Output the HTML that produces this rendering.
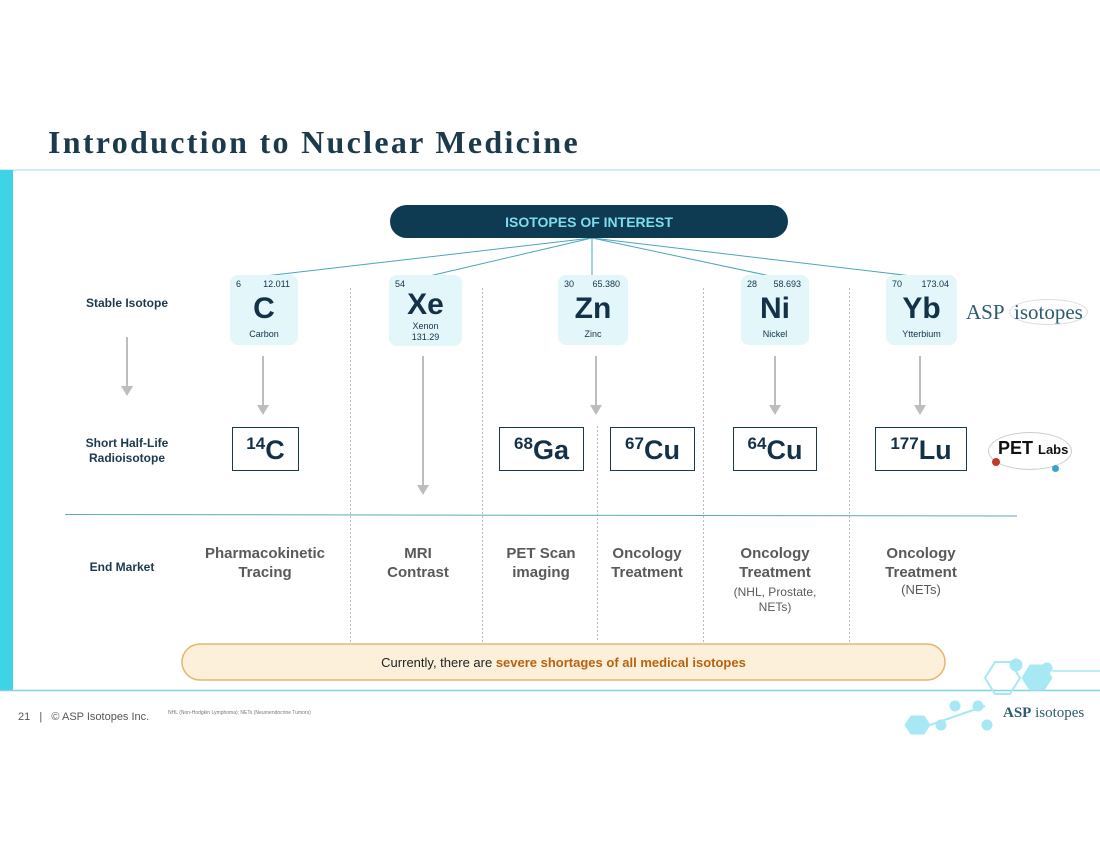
<!DOCTYPE html>
<html><head><meta charset="utf-8"><style>
body{margin:0;width:1100px;height:850px;background:#fff;position:relative;overflow:hidden;font-family:"Liberation Sans",sans-serif}
.a{position:absolute}
.lab{position:absolute;color:#1b3a4b;font-weight:bold;font-size:12px;text-align:center;width:140px;line-height:15px}
.el{position:absolute;background:#e3f6fa;border-radius:8px;color:#133247;text-align:center}
.el .n{position:absolute;top:4px;left:6px;font-size:9px}
.el .w{position:absolute;top:4px;right:8px;font-size:9px}
.el .s{position:absolute;top:18px;left:0;right:0;font-size:30px;font-weight:bold;line-height:32px}
.el .nm{position:absolute;top:54px;left:0;right:0;font-size:9px}
.rb{position:absolute;border:1px solid #1b3a4b;color:#133247;font-size:27px;font-weight:bold;text-align:center;line-height:44px;height:44px;box-sizing:border-box}
.rb sup{font-size:17px;vertical-align:10px;line-height:0}
.em{position:absolute;width:150px;text-align:center;color:#595959;font-weight:bold;font-size:15px;line-height:19px}
</style></head><body>
<div class="a" style="left:48px;top:124px;font-family:'Liberation Serif',serif;font-weight:bold;font-size:32px;letter-spacing:2.3px;color:#1b3a4b">Introduction to Nuclear Medicine</div>
<svg class="a" style="left:0;top:0" width="1100" height="850">
<line x1="0" y1="170" x2="1100" y2="170" stroke="#9fdbe8" stroke-width="1"/>
<rect x="0" y="170" width="13" height="520" fill="#3fd3e6"/>
<line x1="0" y1="690.5" x2="1100" y2="690.5" stroke="#7fd3e3" stroke-width="1.5"/>
<g stroke="#4aa5bf" stroke-width="1">
<line x1="592" y1="238" x2="265" y2="276"/><line x1="592" y1="238" x2="425" y2="277"/>
<line x1="592" y1="238" x2="592" y2="277"/><line x1="592" y1="238" x2="775" y2="277"/>
<line x1="592" y1="238" x2="920" y2="277"/>
</g>
<g stroke="#bbb" stroke-width="1" stroke-dasharray="2,2">
<line x1="350.5" y1="288" x2="350.5" y2="642"/><line x1="482.5" y1="288" x2="482.5" y2="642"/>
<line x1="597.5" y1="426" x2="597.5" y2="642"/><line x1="703.5" y1="288" x2="703.5" y2="642"/>
<line x1="849.5" y1="288" x2="849.5" y2="642"/>
</g>
<g stroke="#bdbdbd" stroke-width="2" fill="#bdbdbd">
<line x1="127" y1="337" x2="127" y2="388"/><polygon points="121,386 133,386 127,396" stroke="none"/>
<line x1="263" y1="356" x2="263" y2="407"/><polygon points="257,405 269,405 263,415" stroke="none"/>
<line x1="423" y1="356" x2="423" y2="487"/><polygon points="417,485 429,485 423,495" stroke="none"/>
<line x1="596" y1="356" x2="596" y2="407"/><polygon points="590,405 602,405 596,415" stroke="none"/>
<line x1="775" y1="356" x2="775" y2="407"/><polygon points="769,405 781,405 775,415" stroke="none"/>
<line x1="920" y1="356" x2="920" y2="407"/><polygon points="914,405 926,405 920,415" stroke="none"/>
</g>
<line x1="65" y1="514.5" x2="1017" y2="516" stroke="#5aa9c0" stroke-width="1"/>
<rect x="390" y="205" width="398" height="33" rx="16.5" fill="#0e3a52"/>
<rect x="182" y="644" width="763" height="36" rx="18" fill="#fdf0db" stroke="#e3b56c" stroke-width="1.5"/>
<g fill="#a6e8f3" stroke="#a6e8f3">
<polygon points="985,678 995,662 1010,662 1020,678 1010,694 995,694" fill="none" stroke-width="2"/>
<polygon points="1022,678 1030,665 1044,665 1052,678 1044,690 1030,690"/>
<line x1="1052" y1="671" x2="1100" y2="671" stroke-width="1.5"/>
<circle cx="1016" cy="665" r="6"/><circle cx="1047" cy="668" r="5"/>
<polygon points="905,725 911,716 924,716 930,725 924,734 911,734"/>
<line x1="930" y1="725" x2="985" y2="706" stroke-width="2"/>
<circle cx="941" cy="725" r="5"/><circle cx="955" cy="706" r="5"/><circle cx="978" cy="706" r="5"/><circle cx="987" cy="725" r="5"/>
</g>
</svg>
<div class="a" style="left:390px;top:214px;width:398px;text-align:center;color:#7fdcef;font-weight:bold;font-size:14px">ISOTOPES OF INTEREST</div>
<div class="lab" style="left:57px;top:296px">Stable Isotope</div>
<div class="lab" style="left:57px;top:436px">Short Half-Life<br>Radioisotope</div>
<div class="lab" style="left:52px;top:560px">End Market</div>
<div class="el" style="left:230px;top:275px;width:68px;height:70px"><span class="n">6</span><span class="w">12.011</span><div class="s">C</div><div class="nm">Carbon</div></div>
<div class="el" style="left:389px;top:275px;width:73px;height:71px"><span class="n">54</span><div class="s" style="top:14px">Xe</div><div class="nm" style="top:46px;line-height:11px">Xenon<br>131.29</div></div>
<div class="el" style="left:558px;top:275px;width:70px;height:70px"><span class="n">30</span><span class="w">65.380</span><div class="s">Zn</div><div class="nm">Zinc</div></div>
<div class="el" style="left:741px;top:275px;width:68px;height:70px"><span class="n">28</span><span class="w">58.693</span><div class="s">Ni</div><div class="nm">Nickel</div></div>
<div class="el" style="left:886px;top:275px;width:71px;height:70px"><span class="n">70</span><span class="w">173.04</span><div class="s">Yb</div><div class="nm">Ytterbium</div></div>
<div class="rb" style="left:232px;top:427px;width:67px"><sup>14</sup>C</div>
<div class="rb" style="left:499px;top:427px;width:85px"><sup>68</sup>Ga</div>
<div class="rb" style="left:610px;top:427px;width:85px"><sup>67</sup>Cu</div>
<div class="rb" style="left:733px;top:427px;width:84px"><sup>64</sup>Cu</div>
<div class="rb" style="left:875px;top:427px;width:92px"><sup>177</sup>Lu</div>
<div class="em" style="left:190px;top:544px">Pharmacokinetic<br>Tracing</div>
<div class="em" style="left:343px;top:544px">MRI<br>Contrast</div>
<div class="em" style="left:466px;top:544px">PET Scan<br>imaging</div>
<div class="em" style="left:572px;top:544px">Oncology<br>Treatment</div>
<div class="em" style="left:700px;top:544px">Oncology<br>Treatment<div style="font-weight:normal;font-size:12px;line-height:15px;margin-top:3px">(NHL, Prostate,<br>NETs)</div></div>
<div class="em" style="left:846px;top:544px">Oncology<br>Treatment<div style="font-weight:normal;font-size:13px;line-height:15px">(NETs)</div></div>
<div class="a" style="left:182px;top:655px;width:763px;text-align:center;font-size:13px;color:#222">Currently, there are <b style="color:#b8620e">severe shortages of all medical isotopes</b></div>
<div class="a" style="left:966px;top:300px;font-family:'Liberation Serif',serif;font-size:21px;color:#2b5c6e"><b style="font-weight:normal">ASP</b> <span style="border:1px solid #ddd;border-radius:50%;padding:0 4px">isotopes</span></div>
<div class="a" style="left:988px;top:432px;width:82px;height:36px;border:1px solid #ccc;border-radius:50%"></div>
<div class="a" style="left:998px;top:438px;font-size:18px;font-weight:bold;color:#111">PET <span style="font-size:13px">Labs</span></div>
<div class="a" style="left:992px;top:458px;width:8px;height:8px;border-radius:50%;background:#c0392b"></div>
<div class="a" style="left:1052px;top:465px;width:7px;height:7px;border-radius:50%;background:#3aa6c4"></div>
<div class="a" style="left:18px;top:711px;font-size:11px;color:#555">21 &nbsp; | &nbsp; © ASP Isotopes Inc.</div>
<div class="a" style="left:168px;top:710px;font-size:5px;color:#777">NHL (Non-Hodgkin Lymphoma); NETs (Neuroendocrine Tumors)</div>
<div class="a" style="left:1003px;top:705px;font-family:'Liberation Serif',serif;font-size:15px;color:#2b5c6e"><b>ASP</b> isotopes</div>
</body></html>
